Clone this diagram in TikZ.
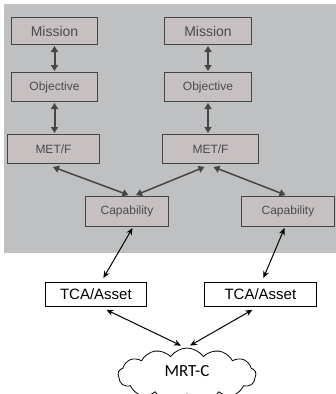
\documentclass[tikz,border=0pt]{standalone}
\usepackage{fontspec}
\setmainfont{Liberation Sans}
\newfontfamily\cloudfont{Carlito}
\usetikzlibrary{shapes.symbols,arrows.meta}
\definecolor{panelgray}{HTML}{BEC0C1}
\definecolor{boxgray}{HTML}{C6C0C1}
\definecolor{darkline}{HTML}{454545}
\definecolor{boxtext}{HTML}{4A4A4A}
\tikzset{
  graybox/.style={draw=darkline, line width=1pt, fill=boxgray, text=boxtext,
    inner sep=0pt, anchor=north west},
  whitebox/.style={draw=black, line width=0.8pt, fill=white, text=black,
    inner sep=0pt, anchor=north west, font=\fontsize{15}{17}\selectfont},
  thicklink/.style={draw=darkline, line width=2pt,
    {Triangle[length=6pt,width=7pt]}-{Triangle[length=6pt,width=7pt]}},
  thinlink/.style={draw=black, line width=1pt,
    {Stealth[length=7pt,width=6pt]}-{Stealth[length=7pt,width=6pt]}},
}
\begin{document}
\begin{tikzpicture}[x=1pt,y=-1pt]
\useasboundingbox (0,0) rectangle (336,394);
\clip (0,0) rectangle (336,394);
% shaded panel
\fill[panelgray] (4,4) rectangle (336,253);

% left column
\node[graybox, minimum width=86pt, minimum height=27pt, font=\fontsize{14}{16}\selectfont] (m1) at (11,17) {Mission};
\node[graybox, minimum width=86pt, minimum height=29pt, font=\fontsize{12}{14}\selectfont] (o1) at (11,72) {Objective};
\node[graybox, minimum width=92pt, minimum height=29pt, font=\fontsize{12}{14}\selectfont] (f1) at (7,134) {MET/F};
% right column
\node[graybox, minimum width=87pt, minimum height=27pt, font=\fontsize{14}{16}\selectfont] (m2) at (164,17) {Mission};
\node[graybox, minimum width=87pt, minimum height=29pt, font=\fontsize{12}{14}\selectfont] (o2) at (164,72) {Objective};
\node[graybox, minimum width=96pt, minimum height=29pt, font=\fontsize{12}{14}\selectfont] (f2) at (162,134) {MET/F};
% capabilities
\node[graybox, minimum width=83pt, minimum height=30pt, font=\fontsize{12}{14}\selectfont] (c1) at (85,196) {Capability};
\node[graybox, minimum width=93pt, minimum height=30pt, font=\fontsize{12}{14}\selectfont] (c2) at (241,196) {Capability};
% assets
\node[whitebox, minimum width=101pt, minimum height=24pt] (t1) at (45,282) {TCA/Asset};
\node[whitebox, minimum width=112pt, minimum height=24pt] (t2) at (204,282) {TCA/Asset};
% cloud
\node[cloud, cloud puffs=13, cloud puff arc=110, aspect=2.6, draw=black, line width=0.8pt,
  fill=white, minimum width=138pt, minimum height=54pt, inner sep=0pt] (mrt) at (187,375) {};
\node[font=\cloudfont\fontsize{17}{19}\selectfont] (mrtlabel) at (187,371) {MRT-C};

% thick links inside the panel
\draw[thicklink] ([yshift=-1pt]m1.south) -- ([yshift=1pt]o1.south |- o1.north);
\draw[thicklink] ([yshift=-1pt]o1.south) -- ([yshift=1pt]o1.south |- f1.north);
\draw[thicklink] ([yshift=-1pt]m2.south) -- ([yshift=1pt]o2.south |- o2.north);
\draw[thicklink] ([yshift=-1pt]o2.south) -- ([yshift=1pt]o2.south |- f2.north);
\draw[thicklink, line width=1.5pt] ([xshift=-0.5pt,yshift=-3pt]f1.south) -- ([xshift=1.5pt,yshift=1pt]c1.north);
\draw[thicklink, line width=1.5pt] ([xshift=-6pt,yshift=-3pt]f2.south) -- ([xshift=9pt,yshift=1pt]c1.north);
\draw[thicklink, line width=1.5pt] ([xshift=3pt,yshift=-3pt]f2.south) -- ([xshift=-2.5pt,yshift=1pt]c2.north);

% thin links to assets and the cloud
\draw[thinlink] ([xshift=5.5pt,yshift=-1pt]c1.south) -- ([xshift=7.5pt,yshift=4pt]t1.north);
\draw[thinlink] ([xshift=-3.5pt,yshift=-1pt]c2.south) -- ([xshift=3pt,yshift=4pt]t2.north);
\draw[thinlink] ([xshift=10.5pt,yshift=-3pt]t1.south) -- ([xshift=-6pt,yshift=2pt]mrt.north);
\draw[thinlink] ([xshift=-8pt,yshift=-3pt]t2.south) -- ([xshift=3pt,yshift=2pt]mrt.north);
\end{tikzpicture}
\end{document}
